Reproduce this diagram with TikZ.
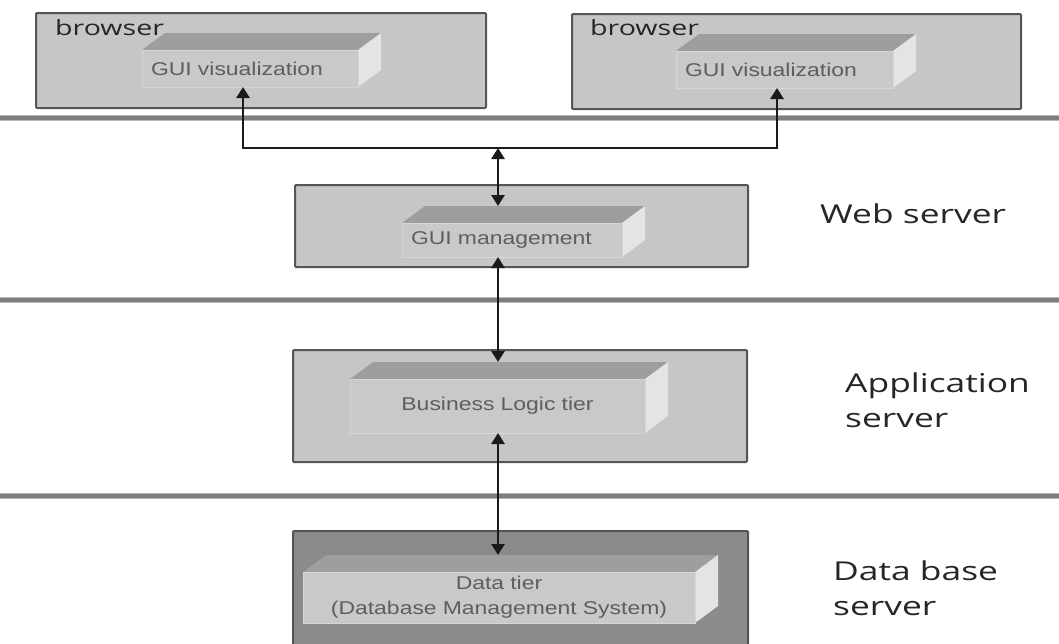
\documentclass[tikz,border=0pt]{standalone}
\usepackage{fontspec}
\usetikzlibrary{arrows.meta}
\newfontfamily\lblfont[FakeStretch=1.36]{Open Sans}
\newfontfamily\inrfont[FakeStretch=1.24]{Liberation Sans}
\definecolor{outerfill}{HTML}{C6C6C6}
\definecolor{outerdraw}{HTML}{555555}
\definecolor{datafill}{HTML}{8B8B8B}
\definecolor{facefill}{HTML}{C9C9C9}
\definecolor{faceedge}{HTML}{D6D6D6}
\definecolor{topfill}{HTML}{9E9E9E}
\definecolor{sidefill}{HTML}{E4E4E4}
\definecolor{inrtext}{HTML}{5E5E5E}
\definecolor{sepcore}{HTML}{7E7E7E}
\definecolor{sepedge}{HTML}{B8B8B8}
\definecolor{conncol}{HTML}{1A1A1A}
\definecolor{lbltext}{HTML}{262626}
\tikzset{
  outerbox/.style={draw=outerdraw, fill=outerfill, line width=2pt, inner sep=0pt, outer sep=0pt, rounded corners=1pt},
  databox/.style={outerbox, fill=datafill},
  slabfront/.style={fill=facefill, draw=faceedge, line width=1pt, inner xsep=9pt, inner ysep=0pt, outer sep=0pt,
    font=\inrfont\fontsize{18.5}{25}\selectfont, text=inrtext},
  slabtop/.style={fill=topfill},
  slabside/.style={fill=sidefill},
  tierlabel/.style={anchor=base west, inner sep=0pt, font=\lblfont\fontsize{26}{30}\selectfont, text=lbltext},
  boxlabel/.style={anchor=base west, inner sep=0pt, font=\lblfont\fontsize{21}{24}\selectfont, text=lbltext},
  conn/.style={draw=conncol, line width=2.8pt, {Triangle[width=13pt,length=11pt]}-{Triangle[width=13pt,length=11pt]}},
  sepline/.style={line width=6pt, draw=sepedge},
  sepinner/.style={line width=3.5pt, draw=sepcore}
}
\newcommand\slab[7]{%
  \fill[slabtop] (#2,#3) -- ({#2+23},{#3-17}) -- ({#4+23},{#3-17}) -- (#4,#3) -- cycle;
  \fill[slabside] (#4,#3) -- ({#4+23},{#3-17}) -- ({#4+23},{#5-17}) -- (#4,#5) -- cycle;
  \pgfmathsetmacro\slabw{#4-#2}%
  \pgfmathsetmacro\slabh{#5-#3}%
  \pgfmathsetmacro\slabtw{#4-#2-18}%
  \node[slabfront, minimum width=\slabw pt, minimum height=\slabh pt, text width=\slabtw pt, align=#6]
    (#1) at ({(#2+#4)/2},{(#3+#5)/2}) {#7};
  \coordinate (#1-top) at (#2,{#3-17});
}
\begin{document}
\begin{tikzpicture}[x=1pt,y=-1pt]
\useasboundingbox (0,0) rectangle (1059,643);
% separators
\foreach \yy in {118,300,496} {
  \draw[sepline] (0,\yy) -- (1059,\yy);
  \draw[sepinner] (0,\yy) -- (1059,\yy);
}
% outer boxes
\node[outerbox, minimum width=450pt, minimum height=95pt] (br1) at (261,60.5) {};
\node[outerbox, minimum width=449pt, minimum height=95pt] (br2) at (796.5,61.5) {};
\node[outerbox, minimum width=453pt, minimum height=82pt] (ws) at (521.5,226) {};
\node[outerbox, minimum width=454pt, minimum height=112pt] (as) at (520,406) {};
\node[databox, minimum width=455pt, minimum height=122pt] (ds) at (520.5,592) {};
% box labels
\node[boxlabel] (br1lbl) at (55,35) {browser};
\node[boxlabel] (br2lbl) at (590,35) {browser};
% slabs
\slab{gv1}{142}{50}{358}{87}{left}{GUI visualization}
\slab{gv2}{676}{51}{893}{88}{left}{GUI visualization}
\slab{gm}{402}{223}{622}{257}{left}{GUI management}
\slab{bl}{350}{379}{645}{433}{center}{Business Logic tier}
\slab{dt}{303}{572}{695}{623}{center}{Data tier\\(Database Management System)}
% tier labels
\node[tierlabel] (web) at (820,223) {Web server};
\node[tierlabel] (appa) at (845,392) {Application};
\node[tierlabel] (appb) at (845,427) {server};
\node[tierlabel] (dba) at (833,580) {Data base};
\node[tierlabel] (dbb) at (833,615) {server};
% connectors
\coordinate (busL) at (243,148);
\coordinate (busR) at (777,148);
\coordinate (axis) at (498,148);
\draw[conn] (gv1.south -| busL) -- (busL) -- (busR) -- (gv2.south -| busR);
\draw[conn] (axis) -- (gm-top -| axis);
\draw[conn] (gm.south -| axis) -- (bl-top -| axis);
\draw[conn] (bl.south -| axis) -- (dt-top -| axis);
\end{tikzpicture}
\end{document}
